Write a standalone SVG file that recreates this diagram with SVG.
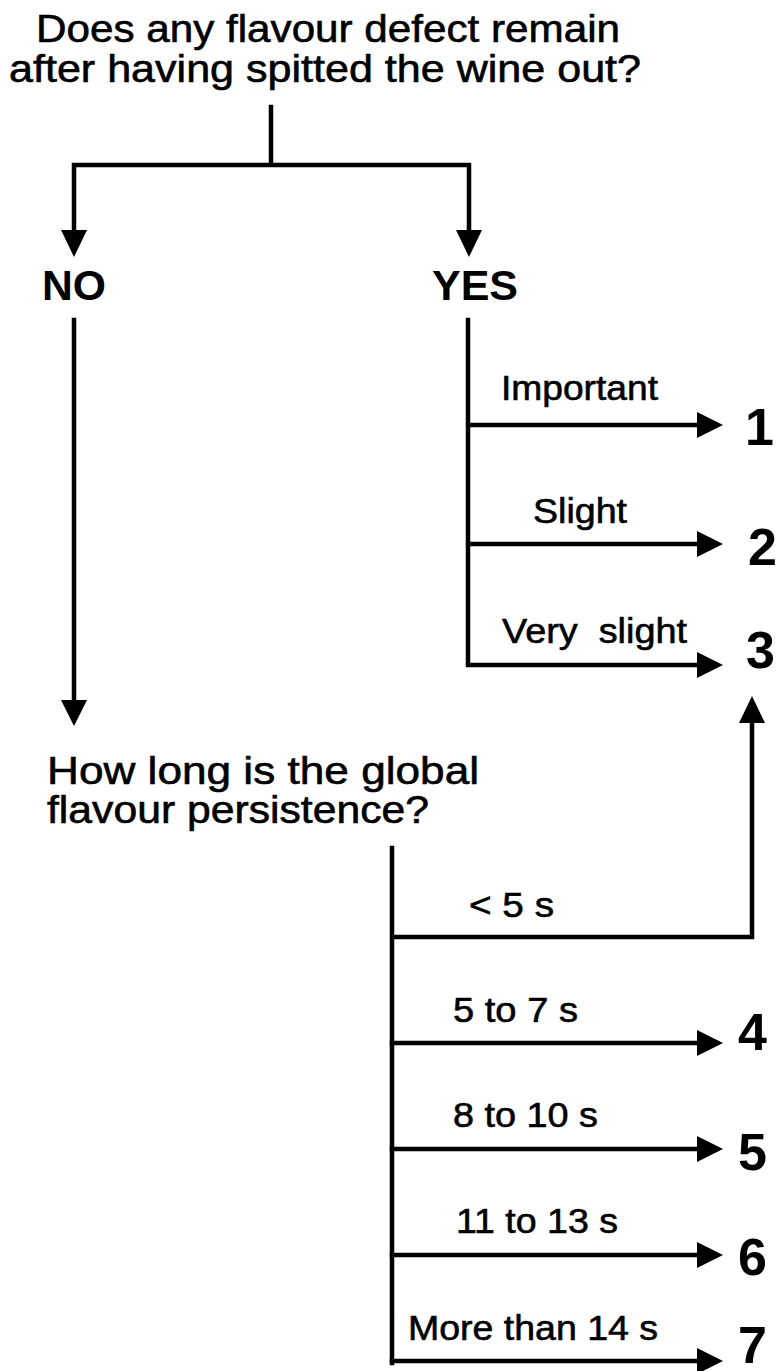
<svg xmlns="http://www.w3.org/2000/svg" width="778" height="1371" viewBox="0 0 778 1371">
<style>
.q{font-family:"Liberation Sans",Arial,sans-serif;font-size:38px;fill:#000;stroke:#000;stroke-width:0.6}
.lbl{font-family:"Liberation Sans",Arial,sans-serif;font-size:35px;fill:#000;stroke:#000;stroke-width:0.6;white-space:pre}
.yn{font-family:"Liberation Sans",Arial,sans-serif;font-size:42px;font-weight:bold;fill:#000}
.num{font-family:"Liberation Sans",Arial,sans-serif;font-size:52px;font-weight:bold;fill:#000}
.ln{stroke:#000;stroke-width:4.5;fill:none;stroke-linecap:square}
.ah{fill:#000}
</style>
<rect width="778" height="1371" fill="#fff"/>
<g id="q1">
<text class="q" x="36" y="42" textLength="584" lengthAdjust="spacingAndGlyphs">Does any flavour defect remain</text>
<text class="q" x="9" y="82" textLength="632" lengthAdjust="spacingAndGlyphs">after having spitted the wine out?</text>
</g>
<g id="no"><text class="yn" x="42" y="300" textLength="64" lengthAdjust="spacingAndGlyphs">NO</text></g>
<g id="yes"><text class="yn" x="432" y="300" textLength="86" lengthAdjust="spacingAndGlyphs">YES</text></g>
<g id="q2">
<text class="q" x="47" y="784" textLength="432" lengthAdjust="spacingAndGlyphs">How long is the global</text>
<text class="q" x="47" y="823" textLength="382" lengthAdjust="spacingAndGlyphs">flavour persistence?</text>
</g>
<g id="r1"><text class="num" x="745" y="445">1</text></g>
<g id="r2"><text class="num" x="748" y="565">2</text></g>
<g id="r3"><text class="num" x="746" y="668">3</text></g>
<g id="r4"><text class="num" x="738" y="1050">4</text></g>
<g id="r5"><text class="num" x="738" y="1170">5</text></g>
<g id="r6"><text class="num" x="738" y="1275">6</text></g>
<g id="r7"><text class="num" x="738" y="1363">7</text></g>
<g id="connectors">
<path class="ln" d="M271 107 V165 M74 165 H469 M74 165 V232 M469 165 V232"/>
<polygon class="ah" points="61,230 87,230 74,257"/>
<polygon class="ah" points="456,230 482,230 469,257"/>
<path class="ln" d="M74 320 V702"/>
<polygon class="ah" points="61,700 87,700 74,726"/>
<path class="ln" d="M468 320 V665 M468 425 H699 M468 544 H699 M468 665 H699"/>
<polygon class="ah" points="697,412 697,438 723,425"/>
<polygon class="ah" points="697,531 697,557 723,544"/>
<polygon class="ah" points="697,652 697,678 723,665"/>
<path class="ln" d="M392 848 V1363 M392 937 H752 V722"/>
<polygon class="ah" points="739,723 765,723 752,696"/>
<path class="ln" d="M392 1043 H699 M392 1149 H699 M392 1255 H699 M392 1361 H699"/>
<polygon class="ah" points="697,1030 697,1056 723,1043"/>
<polygon class="ah" points="697,1136 697,1162 723,1149"/>
<polygon class="ah" points="697,1242 697,1268 723,1255"/>
<polygon class="ah" points="697,1348 697,1374 723,1361"/>
<text class="lbl" x="501" y="400" textLength="157" lengthAdjust="spacingAndGlyphs">Important</text>
<text class="lbl" x="533" y="523" textLength="94" lengthAdjust="spacingAndGlyphs">Slight</text>
<text class="lbl" x="502" y="643" textLength="185" lengthAdjust="spacingAndGlyphs">Very  slight</text>
<text class="lbl" x="469" y="917" textLength="85" lengthAdjust="spacingAndGlyphs">&lt; 5 s</text>
<text class="lbl" x="453" y="1022" textLength="125" lengthAdjust="spacingAndGlyphs">5 to 7 s</text>
<text class="lbl" x="453" y="1127" textLength="145" lengthAdjust="spacingAndGlyphs">8 to 10 s</text>
<text class="lbl" x="456" y="1233" textLength="162" lengthAdjust="spacingAndGlyphs">11 to 13 s</text>
<text class="lbl" x="408" y="1340" textLength="250" lengthAdjust="spacingAndGlyphs">More than 14 s</text>
</g>
</svg>
